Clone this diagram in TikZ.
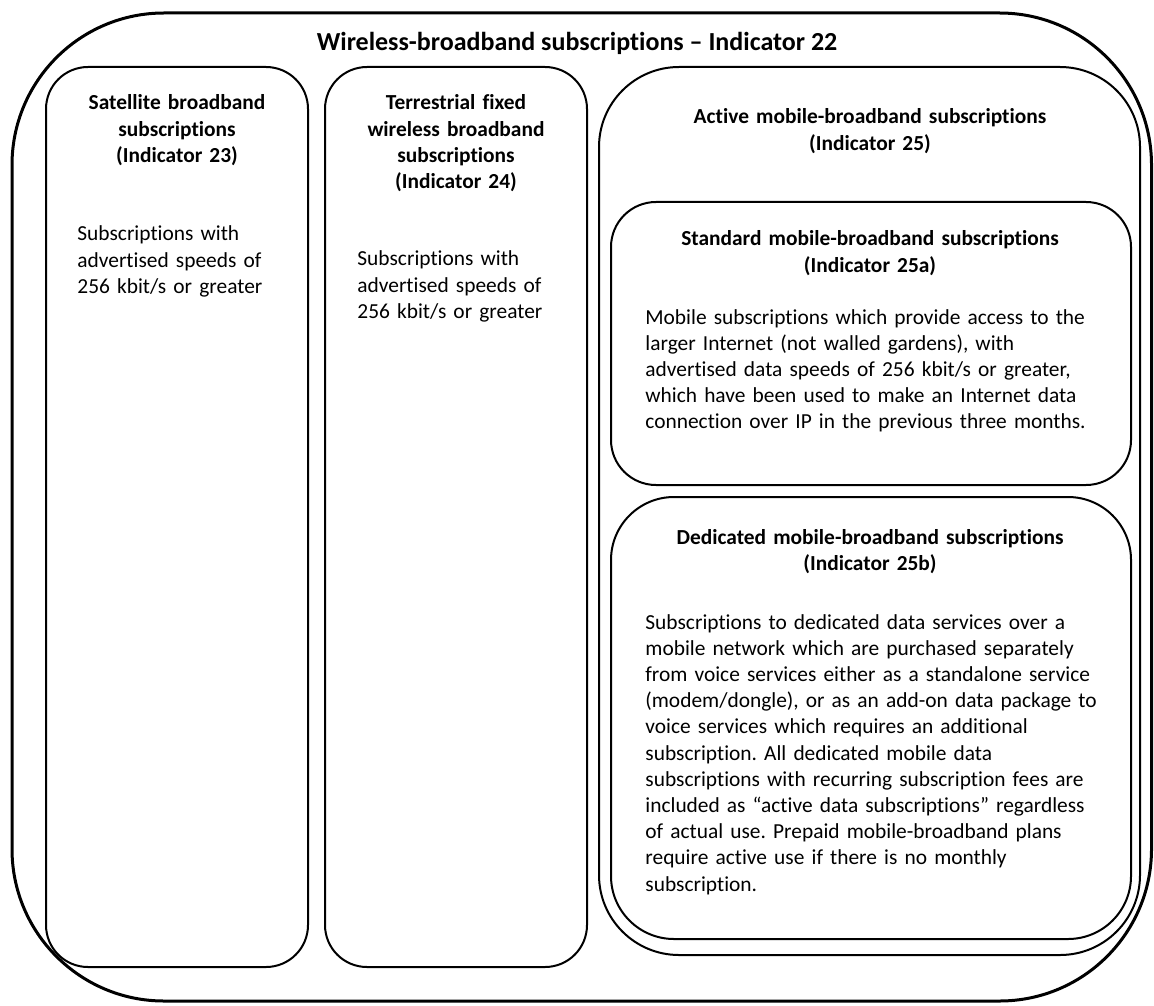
\documentclass[tikz,border=0pt]{standalone}
\usepackage{fontspec}
\setmainfont{Carlito}[Ligatures=NoCommon]
\usetikzlibrary{fit}
\frenchspacing
\begin{document}
\begin{tikzpicture}[x=0.5pt,y=-0.5pt,
  frame/.style={draw, line width=1pt, inner sep=0pt},
  head/.style={font=\fontsize{10.7}{13.1}\selectfont\bfseries, align=center,
    anchor=base, inner sep=0pt, text width=#1},
  head/.default=130pt,
  body/.style={font=\fontsize{10.7}{13.1}\selectfont, align=left,
    anchor=base west, inner sep=0pt, text width=250pt},
]
\useasboundingbox (0,0) rectangle (1154,1005);

% frames
\node[frame, line width=1.5pt, rounded corners=76pt, fit={(12,13)(1151.5,1001)}] (outer) {};
\node[frame, rounded corners=21pt, fit={(46,67)(308,967)}] (sat) {};
\node[frame, rounded corners=21pt, fit={(325,67)(587,967)}] (ter) {};
\node[frame, rounded corners=40pt, fit={(599,67)(1140,955)}] (act) {};
\node[frame, rounded corners=22.5pt, fit={(611,202)(1131,485)}] (std) {};
\node[frame, rounded corners=31.5pt, fit={(611,497)(1131,939)}] (ded) {};

% title
\node[font=\fontsize{13}{15}\selectfont\bfseries, anchor=base, inner sep=0pt]
  (title) at (577,51) {Wireless-broadband subscriptions – Indicator 22};

% satellite column
\node[head] (sathead) at (177,110) {Satellite broadband\\subscriptions\\(Indicator 23)};
\node[body] (satbody) at (77,241) {Subscriptions with\\advertised speeds of\\256 kbit/s or greater};

% terrestrial column
\node[head] (terhead) at (456,110) {Terrestrial fixed\\wireless broadband\\subscriptions\\(Indicator 24)};
\node[body] (terbody) at (357,266) {Subscriptions with\\advertised speeds of\\256 kbit/s or greater};

% mobile column
\node[head=260pt] (acthead) at (870,124) {Active mobile-broadband subscriptions\\(Indicator 25)};
\node[head=260pt] (stdhead) at (870,246) {Standard mobile-broadband subscriptions\\(Indicator 25a)};
\node[body] (stdbody) at (645,324) {Mobile subscriptions which provide access to the\\
larger Internet (not walled gardens), with\\
advertised data speeds of 256 kbit/s or greater,\\
which have been used to make an Internet data\\
connection over IP in the previous three months.};
\node[head=260pt] (dedhead) at (870,544) {Dedicated mobile-broadband subscriptions\\(Indicator 25b)};
\node[body] (dedbody) at (645,629) {Subscriptions to dedicated data services over a\\
mobile network which are purchased separately\\
from voice services either as a standalone service\\
(modem/dongle), or as an add-on data package to\\
voice services which requires an additional\\
subscription. All dedicated mobile data\\
subscriptions with recurring subscription fees are\\
included as “active data subscriptions” regardless\\
of actual use. Prepaid mobile-broadband plans\\
require active use if there is no monthly\\
subscription.};
\end{tikzpicture}
\end{document}
